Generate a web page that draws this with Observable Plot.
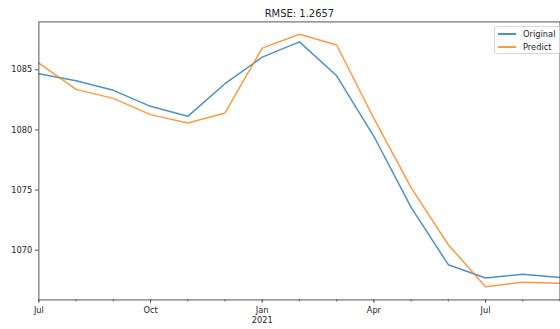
<!DOCTYPE html>
<html><head><meta charset="utf-8">
<script src="https://cdn.jsdelivr.net/npm/d3@7"></script>
<script src="https://cdn.jsdelivr.net/npm/@observablehq/plot@0.6"></script>
<style>
html,body{margin:0;padding:0;background:#fff;overflow:hidden;}
#wrap{position:relative;width:560px;height:329px;overflow:hidden;font-family:"DejaVu Sans",sans-serif;}
#wrap svg{display:block;}
#legend{position:absolute;left:494px;top:26px;width:64px;height:26px;border:1px solid #d8d8d8;border-radius:2px;background:rgba(255,255,255,0.8);font-size:8.3px;color:#262626;}
#legend .row{position:absolute;left:3px;height:13px;display:flex;align-items:center;}
#legend .sw{width:18px;height:1.5px;margin-right:7px;opacity:0.8;}
</style></head><body><div id="wrap"></div>
<script>
const months = ["2020-07","2020-08","2020-09","2020-10","2020-11","2020-12","2021-01","2021-02","2021-03","2021-04","2021-05","2021-06","2021-07","2021-08","2021-09"];
const original = [1084.67,1084.09,1083.29,1081.96,1081.13,1083.84,1086.05,1087.32,1084.5,1079.47,1073.55,1068.79,1067.68,1067.99,1067.72];
const predict = [1085.55,1083.37,1082.62,1081.27,1080.58,1081.41,1086.8,1087.96,1087.06,1080.95,1075.2,1070.45,1066.96,1067.33,1067.25];
const seriesNames = ["Original","Predict"];
const seriesColors = ["#1f77b4","#ff7f0e"];
const title = "RMSE: 1.2657";
const yTicks = [1070,1075,1080,1085];
const yDomain = [1065.86,1088.98];
const xMajorTicks = [0,3,6,9,12];
const xTickLabels = ["Jul","Oct","Jan\n2021","Apr","Jul"];

const labelMap = new Map(xMajorTicks.map((t,k)=>[t,xTickLabels[k]]));
const data = months.flatMap((m,i)=>[
  {i, v: original[i], s: seriesNames[0]},
  {i, v: predict[i], s: seriesNames[1]}
]);

const chart = Plot.plot({
  width: 562, height: 329,
  marginLeft: 38.5, marginRight: 0.5, marginTop: 21.5, marginBottom: 28.5,
  style: {fontFamily: "DejaVu Sans", fontSize: "8.3px", color: "#262626", background: "#fff", overflow: "visible"},
  x: {type: "linear", domain: [0, months.length - 1]},
  y: {domain: yDomain},
  color: {domain: seriesNames, range: seriesColors},
  marks: [
    Plot.line(data, {x: "i", y: "v", z: "s", stroke: "s", strokeWidth: 1.5, strokeOpacity: 0.8}),
    Plot.axisY(yTicks, {tickSize: 3.5, tickPadding: 3, tickFormat: d => String(d), label: null, stroke: "#555", strokeOpacity: 1}),
    Plot.axisX(d3.range(months.length), {tickSize: 2, tickFormat: () => "", label: null, stroke: "#555", strokeOpacity: 1}),
    Plot.axisX(xMajorTicks, {tickSize: 3.5, tickPadding: 3, lineHeight: 1.2, tickFormat: d => labelMap.get(d), label: null, stroke: "#555", strokeOpacity: 1}),
    Plot.frame({stroke: "#555", strokeWidth: 1}),
    Plot.text([title], {frameAnchor: "top", lineAnchor: "middle", dy: -8.5, fontSize: 10, fill: "#262626"})
  ]
});
const wrap = document.getElementById("wrap");
wrap.appendChild(chart);
const legend = document.createElement("div");
legend.id = "legend";
seriesNames.forEach((name, k) => {
  const row = document.createElement("div");
  row.className = "row";
  row.style.top = (0.5 + k * 13) + "px";
  const sw = document.createElement("div");
  sw.className = "sw";
  sw.style.background = seriesColors[k];
  const tx = document.createElement("span");
  tx.textContent = name;
  row.appendChild(sw); row.appendChild(tx);
  legend.appendChild(row);
});
wrap.appendChild(legend);
</script></body></html>
